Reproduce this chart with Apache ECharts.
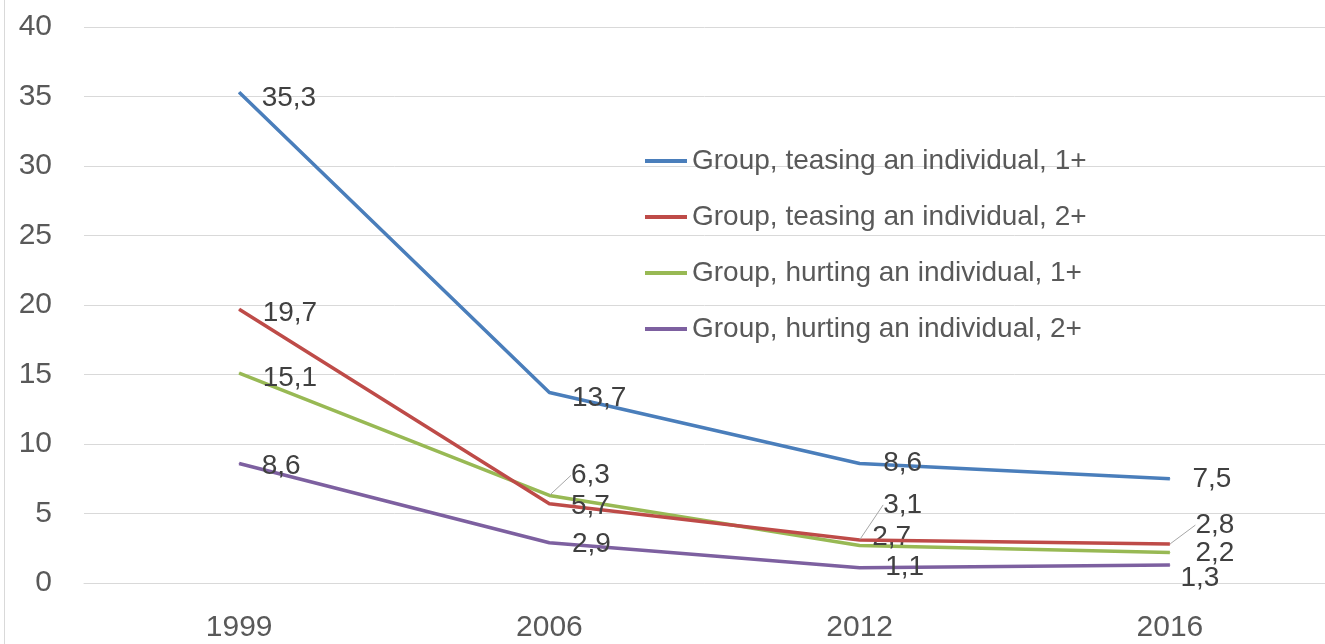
<!DOCTYPE html>
<html>
<head>
<meta charset="utf-8">
<script src="https://cdn.jsdelivr.net/npm/echarts@6/dist/echarts.min.js"></script>
<style>html,body{margin:0;padding:0;background:#fff}#c{width:1325px;height:644px}</style>
</head>
<body>
<div id="c"></div>
<script>
const years = ['1999', '2006', '2012', '2016'];
const seriesNames = [
  'Group, teasing an individual, 1+',
  'Group, teasing an individual, 2+',
  'Group, hurting an individual, 1+',
  'Group, hurting an individual, 2+'
];
const teasing1 = [35.3, 13.7, 8.6, 7.5];
const teasing2 = [19.7, 5.7, 3.1, 2.8];
const hurting1 = [15.1, 6.3, 2.7, 2.2];
const hurting2 = [8.6, 2.9, 1.1, 1.3];
const yTicks = [0, 5, 10, 15, 20, 25, 30, 35, 40];

const colors = ['#4A7EBB', '#BE4B48', '#98B954', '#7D60A0'];
// label offsets [dx, dy] per series / point (style only)
const labelOffsets = [
  [[17, 6], [17, 6], [18, 0], [17, 1]],
  [[18, 4], [16, 3], [18, -35], [20, -19]],
  [[18, 5], [16, -20], [7, -8], [20, 1]],
  [[17, 3], [17, 2], [20, 0], [5, 13]]
];
const leader = [
  [false, false, false, false],
  [false, false, true, true],
  [false, true, false, false],
  [false, false, false, false]
];
const allData = [teasing1, teasing2, hurting1, hurting2];

const fontFam = 'Liberation Sans';
const fs = 28;
const axisFs = 30;
const chart = echarts.init(document.getElementById('c'));
const series = allData.map((arr, si) => ({
  name: seriesNames[si],
  type: 'line',
  symbol: 'circle',
  symbolSize: 1,
  lineStyle: { width: 3.5, color: colors[si], join: 'round' },
  itemStyle: { color: colors[si] },
  z: 10 - si,
  data: arr.map((v, i) => ({
    value: v,
    labelLine: { show: leader[si][i], lineStyle: { color: '#A6A6A6', width: 1 } }
  })),
  label: {
    show: true,
    position: 'right',
    distance: 5,
    fontFamily: fontFam,
    fontSize: fs,
    color: '#404040',
    formatter: p => String(p.value).replace('.', ',')
  },
  labelLayout: p => ({ dx: labelOffsets[si][p.dataIndex][0], dy: labelOffsets[si][p.dataIndex][1] })
}));

chart.setOption({
  animation: false,
  color: colors,
  grid: { left: 84, right: -6, top: 27, bottom: 61 },
  graphic: [{
    type: 'line', shape: { x1: 4.5, y1: 0, x2: 4.5, y2: 644 },
    style: { stroke: '#D9D9D9', lineWidth: 1 }
  }],
  legend: {
    orient: 'vertical',
    left: 640,
    top: 140,
    icon: 'rect',
    itemWidth: 42,
    itemHeight: 4,
    itemGap: 24,
    data: seriesNames,
    textStyle: { fontFamily: fontFam, fontSize: fs, color: '#595959', lineHeight: 32 }
  },
  xAxis: {
    type: 'category',
    data: years,
    boundaryGap: true,
    axisLine: { lineStyle: { color: '#D9D9D9', width: 1 } },
    axisTick: { show: false },
    axisLabel: { fontFamily: fontFam, fontSize: axisFs, color: '#595959', margin: 30 }
  },
  yAxis: {
    type: 'value',
    min: yTicks[0],
    max: yTicks[yTicks.length - 1],
    interval: yTicks[1] - yTicks[0],
    axisLine: { show: false },
    axisTick: { show: false },
    splitLine: { lineStyle: { color: '#D9D9D9', width: 1 } },
    axisLabel: { fontFamily: fontFam, fontSize: axisFs, color: '#595959', margin: 32 }
  },
  series: series
});
</script>
</body>
</html>
